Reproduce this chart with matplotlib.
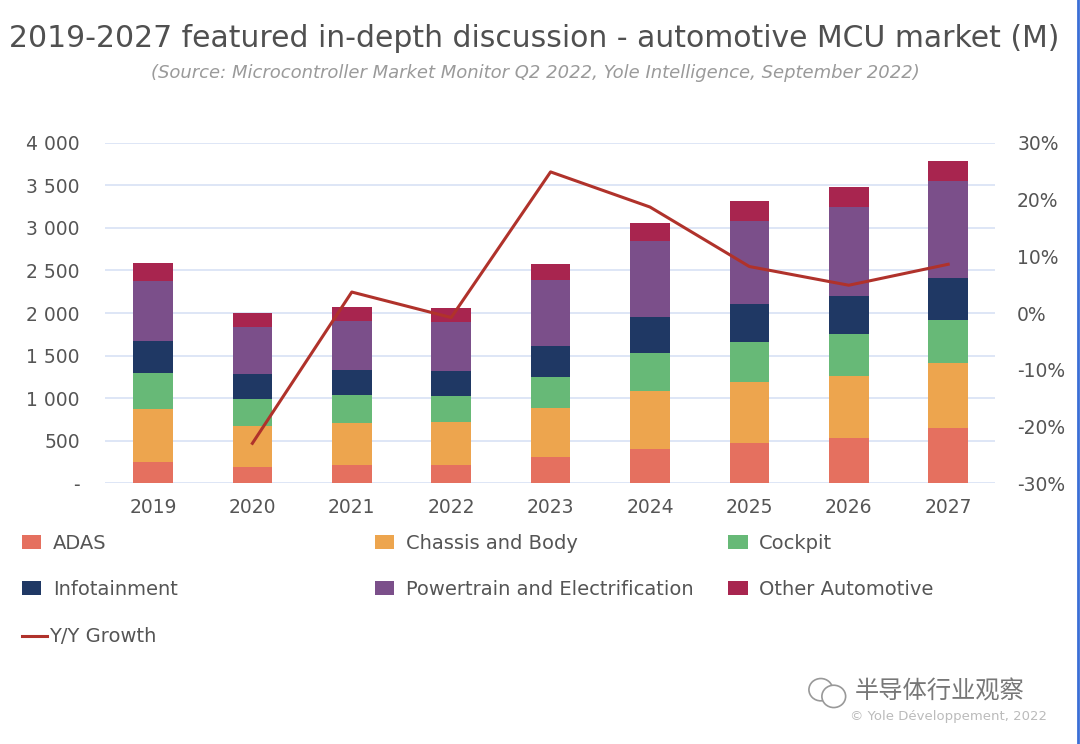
import matplotlib
matplotlib.use("Agg")
import matplotlib.pyplot as plt
from matplotlib.ticker import FuncFormatter, PercentFormatter
from matplotlib.lines import Line2D
from matplotlib.patches import Ellipse

plt.rcParams['font.family'] = ['DejaVu Sans', 'Noto Sans CJK SC']
plt.rcParams['axes.unicode_minus'] = False

# data (M units)
years = ["2019", "2020", "2021", "2022", "2023", "2024", "2025", "2026", "2027"]
adas = [248, 189, 216, 216, 307, 404, 472, 526, 644]
chassis = [628, 487, 495, 499, 577, 681, 719, 731, 763]
cockpit = [413, 318, 322, 306, 366, 448, 472, 492, 515]
infotainment = [377, 283, 291, 291, 361, 420, 448, 451, 484]
powertrain = [711, 558, 582, 582, 775, 889, 974, 1050, 1144]
other = [217, 165, 169, 161, 188, 216, 229, 229, 235]
growth = [None, -0.23, 0.037, -0.008, 0.249, 0.187, 0.082, 0.049, 0.086]

series = [
    ("ADAS", adas, "#E5705F"),
    ("Chassis and Body", chassis, "#EDA54E"),
    ("Cockpit", cockpit, "#67B977"),
    ("Infotainment", infotainment, "#1F3864"),
    ("Powertrain and Electrification", powertrain, "#7B4F8A"),
    ("Other Automotive", other, "#A8254F"),
]
line_color = "#B0322B"
text_color = "#555555"

fig = plt.figure(figsize=(10.8, 7.44), dpi=100)
ax = fig.add_axes([0.0972, 0.3508, 0.824, 0.457])

x = list(range(len(years)))
bottom = [0] * len(years)
handles = []
for name, vals, color in series:
    b = ax.bar(x, vals, width=0.4, bottom=bottom, color=color, label=name, zorder=2)
    handles.append((b, name))
    bottom = [a + v for a, v in zip(bottom, vals)]

ax.set_ylim(0, 4000)
ax.set_xlim(-0.483, 8.47)
ax.set_yticks(range(0, 4001, 500))
ax.yaxis.set_major_formatter(FuncFormatter(
    lambda v, p: "-" if v == 0 else f"{int(v):,}".replace(",", " ")))
ax.set_xticks(x)
ax.set_xticklabels(years)
ax.grid(axis="y", color="#D8E2F5", linewidth=1.2, zorder=0)
ax.set_axisbelow(True)
for s in ax.spines.values():
    s.set_visible(False)
ax.tick_params(axis="both", length=0, labelsize=13.5, labelcolor=text_color)
ax.tick_params(axis="y", pad=18)
ax.tick_params(axis="x", pad=11)

ax2 = ax.twinx()
gx = [i for i, g in zip(x, growth) if g is not None]
gy = [g for g in growth if g is not None]
line, = ax2.plot(gx, gy, color=line_color, linewidth=2.2, zorder=3)
ax2.set_ylim(-0.3, 0.3)
ax2.set_yticks([-0.3, -0.2, -0.1, 0, 0.1, 0.2, 0.3])
ax2.yaxis.set_major_formatter(PercentFormatter(1.0, decimals=0))
for s in ax2.spines.values():
    s.set_visible(False)
ax2.tick_params(axis="y", length=0, labelsize=13.5, labelcolor=text_color, pad=16)

fig.text(0.495, 0.948, "2019-2027 featured in-depth discussion - automotive MCU market (M)",
         ha="center", va="center", fontsize=21.5, color="#505050")
fig.text(0.496, 0.902,
         "(Source: Microcontroller Market Monitor Q2 2022, Yole Intelligence, September 2022)",
         ha="center", va="center", fontsize=13, style="italic", color="#9A9A9A")

# legend entries laid out in a 3-column grid
legend_pos = [(0.004, 0.270), (0.331, 0.270), (0.658, 0.270),
              (0.004, 0.208), (0.331, 0.208), (0.658, 0.208)]
for (b, name), pos in zip(handles, legend_pos):
    fig.legend([b], [name], loc="center left", bbox_to_anchor=pos, frameon=False,
               fontsize=14, handlelength=1.0, handleheight=0.75, handletextpad=0.6,
               labelcolor=text_color)
fig.legend([line], ["Y/Y Growth"], loc="center left", bbox_to_anchor=(0.004, 0.144),
           frameon=False, fontsize=14, handlelength=1.3, handletextpad=0.1,
           labelcolor=text_color)

# watermark
for cx, cy, w, h in [(0.760, 0.073, 0.022, 0.030), (0.772, 0.064, 0.022, 0.030)]:
    fig.add_artist(Ellipse((cx, cy), w, h, transform=fig.transFigure,
                           fill=True, facecolor="white", edgecolor="#999999", linewidth=1.2))
fig.text(0.870, 0.070, "半导体行业观察", ha="center", va="center", fontsize=17.5,
         color="#777777", family=['Noto Sans CJK SC', 'DejaVu Sans'])
fig.text(0.878, 0.037, "© Yole Développement, 2022", ha="center", va="center",
         fontsize=9.5, color="#BBBBBB")

fig.add_artist(Line2D([0.998, 0.998], [0.0, 1.0], transform=fig.transFigure,
                      color="#3B6FD6", linewidth=2))

fig.savefig("out.png", dpi=100)
